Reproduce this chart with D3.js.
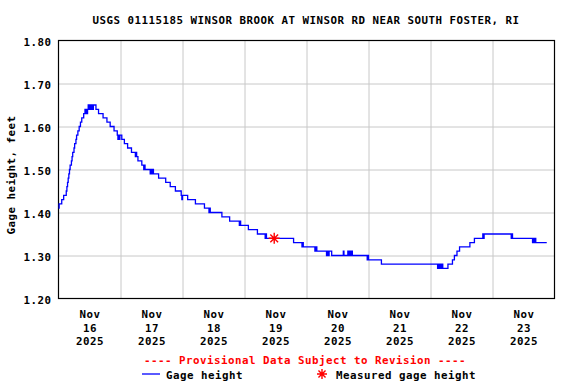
<!DOCTYPE html>
<html>
<head>
<meta charset="utf-8">
<script src="https://cdn.jsdelivr.net/npm/d3@7"></script>
<style>
  body { margin: 0; background: #fff; }
  text { font-family: "DejaVu Sans Mono", monospace; font-weight: bold; font-size: 10.8px; letter-spacing: 0.5px; }
</style>
</head>
<body>
<svg id="chart" width="576" height="384"></svg>
<script>
var title = "USGS 01115185 WINSOR BROOK AT WINSOR RD NEAR SOUTH FOSTER, RI";
var yLabel = "Gage height, feet";
var note = "---- Provisional Data Subject to Revision ----";

// gage height readings (only the points where the value changes)
var stamps = [
  "11/16 00:00", "11/16 00:15", "11/16 01:15", "11/16 02:00", "11/16 03:00", "11/16 03:15",
  "11/16 03:30", "11/16 03:45", "11/16 04:00", "11/16 04:15", "11/16 04:30", "11/16 05:00",
  "11/16 05:15", "11/16 05:30", "11/16 06:00", "11/16 06:15", "11/16 06:45", "11/16 07:00",
  "11/16 07:30", "11/16 08:00", "11/16 08:30", "11/16 09:00", "11/16 09:45", "11/16 10:15",
  "11/16 10:30", "11/16 10:45", "11/16 11:00", "11/16 11:15", "11/16 11:30", "11/16 11:45",
  "11/16 12:00", "11/16 12:30", "11/16 12:45", "11/16 13:15", "11/16 13:30", "11/16 14:30",
  "11/16 15:30", "11/16 17:15", "11/16 18:45", "11/16 20:00", "11/16 21:30", "11/16 22:45",
  "11/16 23:00", "11/16 23:15", "11/16 23:30", "11/16 23:45",
  "11/17 00:30", "11/17 01:30", "11/17 02:45", "11/17 04:15", "11/17 05:45", "11/17 06:00",
  "11/17 06:15", "11/17 06:45", "11/17 08:15", "11/17 09:00", "11/17 09:15", "11/17 09:30",
  "11/17 11:30", "11/17 11:45", "11/17 12:00", "11/17 12:15", "11/17 12:45", "11/17 14:45",
  "11/17 17:30", "11/17 19:15", "11/17 21:15", "11/17 23:30", "11/17 23:45",
  "11/18 00:00", "11/18 02:00", "11/18 05:00", "11/18 08:30", "11/18 10:15", "11/18 10:30",
  "11/18 10:45", "11/18 15:15", "11/18 18:15", "11/18 22:00", "11/18 22:15", "11/18 22:30",
  "11/19 01:30", "11/19 05:00", "11/19 08:00", "11/19 08:15", "11/19 08:30", "11/19 19:00",
  "11/19 22:15", "11/19 22:30", "11/19 22:45",
  "11/20 03:15", "11/20 03:30", "11/20 04:00", "11/20 07:45", "11/20 08:00", "11/20 08:30",
  "11/20 08:45", "11/20 09:45", "11/20 14:15", "11/20 14:30", "11/20 16:00", "11/20 16:15",
  "11/20 16:45", "11/20 17:00", "11/20 17:30", "11/20 17:45", "11/20 23:30", "11/20 23:45",
  "11/21 00:00", "11/21 05:00",
  "11/22 02:45", "11/22 03:00", "11/22 03:30", "11/22 03:45", "11/22 04:15", "11/22 04:30",
  "11/22 04:45", "11/22 06:45", "11/22 08:30", "11/22 09:15", "11/22 10:15", "11/22 11:15",
  "11/22 15:15", "11/22 17:00", "11/22 20:15", "11/22 20:30", "11/22 20:45",
  "11/23 07:15", "11/23 07:30", "11/23 07:45", "11/23 15:30", "11/23 15:45", "11/23 16:15",
  "11/23 16:30", "11/23 16:45", "11/23 21:00"
];
var gage = [
  1.41, 1.42, 1.43, 1.44, 1.45, 1.46,
  1.47, 1.48, 1.49, 1.50, 1.51, 1.52,
  1.53, 1.54, 1.55, 1.56, 1.57, 1.58,
  1.59, 1.60, 1.61, 1.62, 1.63, 1.64,
  1.63, 1.64, 1.63, 1.64, 1.65, 1.64,
  1.65, 1.64, 1.65, 1.64, 1.65, 1.64,
  1.63, 1.62, 1.61, 1.60, 1.59, 1.58,
  1.57, 1.58, 1.57, 1.58,
  1.57, 1.56, 1.55, 1.54, 1.53, 1.54,
  1.53, 1.52, 1.51, 1.50, 1.51, 1.50,
  1.49, 1.50, 1.49, 1.50, 1.49, 1.48,
  1.47, 1.46, 1.45, 1.44, 1.43,
  1.44, 1.43, 1.42, 1.41, 1.40, 1.41,
  1.40, 1.39, 1.38, 1.37, 1.38, 1.37,
  1.36, 1.35, 1.34, 1.35, 1.34, 1.33,
  1.32, 1.33, 1.32,
  1.31, 1.32, 1.31, 1.30, 1.31, 1.30,
  1.31, 1.30, 1.31, 1.30, 1.31, 1.30,
  1.31, 1.30, 1.31, 1.30, 1.29, 1.30,
  1.29, 1.28,
  1.27, 1.28, 1.27, 1.28, 1.27, 1.28,
  1.27, 1.28, 1.29, 1.30, 1.31, 1.32,
  1.33, 1.34, 1.35, 1.34, 1.35,
  1.34, 1.35, 1.34, 1.33, 1.34, 1.33,
  1.34, 1.33, 1.33
];

var measuredStamps = ["11/19 11:30"];
var measuredGage = [1.34];

var yTicks = [1.20, 1.30, 1.40, 1.50, 1.60, 1.70, 1.80];
var dayTicks = ["11/16", "11/17", "11/18", "11/19", "11/20", "11/21", "11/22", "11/23"];

var parse = d3.timeParse("%Y/%m/%d %H:%M");
function when(s) { return parse("2025/" + s); }

var data = stamps.map(function(s, i) { return { date: when(s), value: gage[i] }; });
var measured = measuredStamps.map(function(s, i) { return { date: when(s), value: measuredGage[i] }; });

var svg = d3.select("svg#chart"),
    plotL = 58.5, plotR = 554.5, plotT = 40.5, plotB = 298.5;

var x = d3.scaleTime()
    .domain([when("11/16 00:00"), when("11/24 00:00")])
    .range([plotL, plotR]);

var y = d3.scaleLinear()
    .domain([1.2, 1.8])
    .range([plotB, plotT]);

// grid
svg.append("g")
    .attr("transform", "translate(0," + plotB + ")")
    .call(d3.axisBottom(x).tickValues(dayTicks.slice(1).map(function(d) { return when(d + " 00:00"); }))
      .tickSize(-(plotB - plotT)).tickFormat(""))
    .call(function(g) { g.select(".domain").remove(); })
    .selectAll("line").attr("stroke", "#c8c8c8");

svg.append("g")
    .attr("transform", "translate(" + plotL + ",0)")
    .call(d3.axisLeft(y).tickValues(yTicks.slice(1, -1)).tickSize(-(plotR - plotL)).tickFormat(""))
    .call(function(g) { g.select(".domain").remove(); })
    .selectAll("line").attr("stroke", "#c8c8c8");

// y tick labels
svg.append("g")
    .attr("transform", "translate(" + plotL + ",0)")
    .call(d3.axisLeft(y).tickValues(yTicks).tickSize(0).tickPadding(7).tickFormat(d3.format(".2f")))
    .call(function(g) { g.select(".domain").remove(); })
    .call(function(g) { g.attr("font-size", null).attr("font-family", null); })
    .selectAll("text")
      .attr("fill", "#000")
      .attr("dy", "0.42em");

// x labels at noon, three lines each
var xa = svg.append("g")
    .attr("transform", "translate(0," + plotB + ")")
    .call(d3.axisBottom(x).tickValues(dayTicks.map(function(d) { return when(d + " 12:00"); }))
      .tickSize(0).tickFormat(""))
    .call(function(g) { g.select(".domain").remove(); })
    .call(function(g) { g.attr("font-size", null).attr("font-family", null); });
xa.selectAll(".tick text").remove();
xa.selectAll(".tick").append("text")
    .attr("fill", "#000")
    .attr("text-anchor", "middle")
    .selectAll("tspan")
    .data(function(d) { return ["Nov", d3.timeFormat("%d")(d), d3.timeFormat("%Y")(d)]; })
    .enter().append("tspan")
      .attr("x", 0)
      .attr("y", function(d, i) { return 19.5 + i * 13.5; })
      .text(function(d) { return d; });

// frame
svg.append("rect")
    .attr("x", plotL).attr("y", plotT)
    .attr("width", plotR - plotL).attr("height", plotB - plotT)
    .attr("fill", "none").attr("stroke", "#000").attr("stroke-width", 1.2);

// gage height line
var line = d3.line()
    .curve(d3.curveStepAfter)
    .x(function(d) { return x(d.date); })
    .y(function(d) { return y(d.value); });

svg.append("path")
    .datum(data)
    .attr("d", line)
    .attr("fill", "none")
    .attr("stroke", "#0000ff")
    .attr("stroke-width", 1.3);

function star(r) {
  var p = d3.path();
  for (var k = 0; k < 4; k++) {
    var a = k * Math.PI / 4;
    p.moveTo(-r * Math.cos(a), -r * Math.sin(a));
    p.lineTo(r * Math.cos(a), r * Math.sin(a));
  }
  return p.toString();
}

svg.selectAll(".meas")
    .data(measured)
    .enter().append("path")
      .attr("class", "meas")
      .attr("transform", function(d) { return "translate(" + x(d.date) + "," + y(d.value) + ")"; })
      .attr("d", star(5.5))
      .attr("stroke", "#ff0000")
      .attr("stroke-width", 1.4);

// texts
svg.append("text")
    .attr("x", 306).attr("y", 24)
    .attr("text-anchor", "middle")
    .text(title);

svg.append("text")
    .attr("transform", "translate(15,175) rotate(-90)")
    .attr("text-anchor", "middle")
    .text(yLabel);

svg.append("text")
    .attr("x", 305).attr("y", 364)
    .attr("text-anchor", "middle")
    .attr("fill", "#ff0000")
    .text(note);

// legend
svg.append("line")
    .attr("x1", 142).attr("x2", 160).attr("y1", 374).attr("y2", 374)
    .attr("stroke", "#0000ff").attr("stroke-width", 1.3);
svg.append("text").attr("x", 166).attr("y", 378.5).text("Gage height");

svg.append("path")
    .attr("transform", "translate(322,374)")
    .attr("d", star(5))
    .attr("stroke", "#ff0000")
    .attr("stroke-width", 1.4);
svg.append("text").attr("x", 336).attr("y", 378.5).text("Measured gage height");
</script>
</body>
</html>
